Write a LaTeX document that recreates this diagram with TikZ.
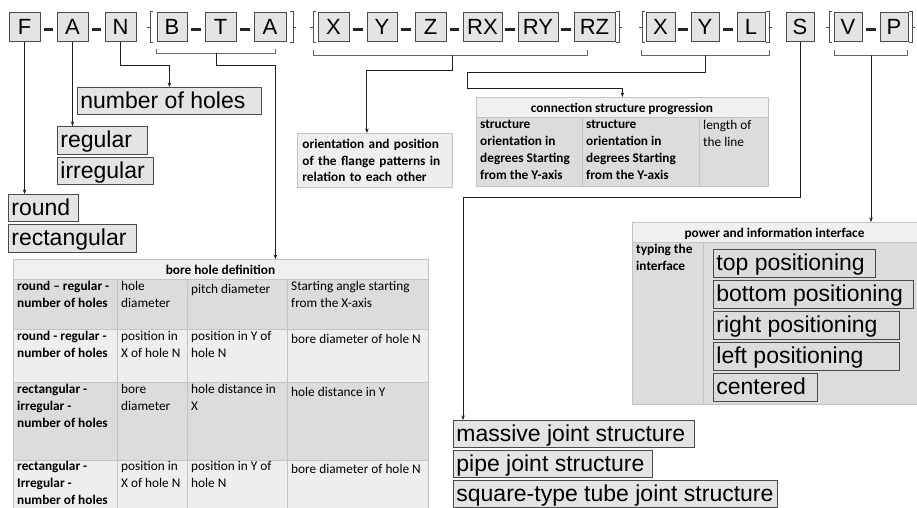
\documentclass[tikz,border=0pt]{standalone}
\usepackage{fontspec}
\setmainfont{Liberation Sans}
\newfontfamily\tabfont{Carlito}
\usetikzlibrary{arrows.meta,calc}

\definecolor{boxfill}{HTML}{E4E4E4}
\definecolor{boxline}{HTML}{4A4A4A}
\definecolor{headfill}{HTML}{F0F0F0}
\definecolor{darkrow}{HTML}{DCDCDD}
\definecolor{lightrow}{HTML}{EEEEEE}
\definecolor{gridline}{HTML}{C4C4C4}
\definecolor{wire}{HTML}{1E1E1E}

% left-aligned label text in a box of fixed width
\newcommand\lbox[2]{\hbox to #1{#2\hfil}}

\tikzset{
  key/.style={draw=boxline,fill=boxfill,line width=0.8pt,minimum height=29pt,
    inner sep=0pt,text height=15.5pt,text depth=0pt,font=\fontsize{22}{25}\selectfont},
  sepdash/.style={line width=3pt,draw=black!85},
  bracket/.style={draw=black!70,line width=0.7pt},
  brace/.style={draw=black!60,line width=0.8pt},
  conn/.style={draw=wire,line width=0.9pt,-{Stealth[length=4.5pt,width=3.5pt]}},
  tag/.style={draw=boxline,fill=boxfill,line width=0.8pt,anchor=north west,
    inner xsep=3pt,inner ysep=0pt,minimum height=27pt,text height=19pt,text depth=4pt,
    font=\fontsize{23}{26}\selectfont},
  frame/.style={draw=gridline,line width=0.8pt,anchor=north west,inner sep=0pt},
  grid/.style={draw=gridline,line width=0.8pt},
  % table text: the given point is the baseline of the first line
  cell/.style={anchor=north west,yshift=11.69pt,inner sep=0pt,align=left,
    font=\tabfont\fontsize{13.3}{16.7}\selectfont,execute at begin node=\strut},
  bcell/.style={cell,font=\tabfont\bfseries\fontsize{13.3}{16.7}\selectfont},
  head/.style={anchor=base,inner sep=0pt,font=\tabfont\bfseries\fontsize{13.3}{16.7}\selectfont},
  openbr/.pic={\draw[bracket] (3,-15.5) -- (0,-15.5) -- (0,15.5) -- (3,15.5) (0,0) -- (-3,0);},
  closebr/.pic={\draw[bracket] (-3,-15.5) -- (0,-15.5) -- (0,15.5) -- (-3,15.5) (0,0) -- (3,0);}
}

\begin{document}
\begin{tikzpicture}[x=1pt,y=-1pt]
\useasboundingbox (0,0) rectangle (917,507);
\fill[white] (0,0) rectangle (917,507);
\clip (0,0) rectangle (917,507);

% ---------- code letters ----------
\node[key,minimum width=31pt] (F)  at (24.5,27)  {F};
\node[key,minimum width=31pt] (A1) at (72.5,27)  {A};
\node[key,minimum width=31pt] (N)  at (120.5,27) {N};
\node[key,minimum width=30pt] (B)  at (172,27)   {B};
\node[key,minimum width=31pt] (T)  at (220.5,27) {T};
\node[key,minimum width=32pt] (A2) at (270,27)   {A};
\node[key,minimum width=31pt] (X1) at (333.5,27) {X};
\node[key,minimum width=30pt] (Y1) at (382,27)   {Y};
\node[key,minimum width=31pt] (Z)  at (430.5,27) {Z};
\node[key,minimum width=39pt] (RX) at (482.5,27) {RX};
\node[key,minimum width=40pt] (RY) at (538,27)   {RY};
\node[key,minimum width=41pt] (RZ) at (594.5,27) {RZ};
\node[key,minimum width=29pt] (X2) at (660.5,27) {X};
\node[key,minimum width=28pt] (Y2) at (705,27)   {Y};
\node[key,minimum width=28pt] (L)  at (751,27)   {L};
\node[key,minimum width=28pt] (S)  at (800,27)   {S};
\node[key,minimum width=28pt] (V)  at (848,27)   {V};
\node[key,minimum width=28pt] (P)  at (894,27)   {P};

% separating dashes
\foreach \a/\b in {F/A1,A1/N,B/T,T/A2,X1/Y1,Y1/Z,Z/RX,RX/RY,RY/RZ,X2/Y2,Y2/L,V/P}
  \draw[sepdash] ($(\a.east)!0.2!(\b.west)+(0,2)$) -- ($(\a.east)!0.8!(\b.west)+(0,2)$);

% group brackets
\pic at (150,27) {openbr};  \pic at (293,27) {closebr};
\pic at (313,27) {openbr};  \pic at (619,27) {closebr};
\pic at (642,27) {openbr};  \pic at (769,27) {closebr};
\pic at (829,27) {openbr};  \pic at (912,27) {closebr};

% under-braces
\draw[brace] (156,49) -- (156,53) -- (275,53) -- (275,49);
\coordinate (btaMid) at (216,53);
\draw[brace] (313,50) -- (313,55) -- (587,55) -- (587,50);
\coordinate (xyzMid) at (452,55);
\draw[brace] (641,50) -- (641,55) -- (769,55) -- (769,50);
\coordinate (xylMid) at (705,55);
\draw[brace] (834,50) -- (834,55) -- (907,55) -- (907,50);
\coordinate (vpMid) at (871,55);

% ---------- option labels ----------
\node[tag] (noh)   at (77,87)  {\lbox{178pt}{number of holes}};
\node[tag,minimum height=28pt] (reg) at (57,126) {\lbox{84pt}{regular}};
\node[tag] (irreg) at (57,157) {\lbox{90pt}{irregular}};
\node[tag] (rnd)   at (8,194)  {\lbox{64pt}{round}};
\node[tag,minimum height=28pt] (rect) at (8,224) {\lbox{122pt}{rectangular}};

\node[tag] (massive) at (453,420) {\lbox{235pt}{massive joint structure}};
\node[tag] (pipe)    at (453,450) {\lbox{193pt}{pipe joint structure}};
\node[tag] (square)  at (453,480) {\lbox{318pt}{square-type tube joint structure}};

% ---------- bore hole table ----------
\fill[headfill] (13,259) rectangle (428,279);
\fill[darkrow]  (13,279) rectangle (428,329);
\fill[lightrow] (13,329) rectangle (428,382);
\fill[darkrow]  (13,382) rectangle (428,460);
\fill[lightrow] (13,460) rectangle (428,520);
\draw[grid] (13,279) -- (428,279) (13,329) -- (428,329) (13,382) -- (428,382) (13,460) -- (428,460)
  (117,279) -- (117,520) (187,279) -- (187,520) (287,279) -- (287,520);
\node[frame,minimum width=415pt,minimum height=261pt] (bore) at (13,259) {};
\node[head] (boreT) at (220.5,274) {bore hole definition};
\node[bcell] (b11) at (17,293)  {round – regular -\\number of holes};
\node[cell]  (b12) at (121,293) {hole\\diameter};
\node[cell]  (b13) at (191,293) {pitch diameter};
\node[cell]  (b14) at (291,293) {Starting angle starting\\from the X-axis};
\node[bcell] (b21) at (17,343)  {round - regular -\\number of holes};
\node[cell]  (b22) at (121,343) {position in\\X of hole N};
\node[cell]  (b23) at (191,343) {position in Y of\\hole N};
\node[cell]  (b24) at (291,343) {bore diameter of hole N};
\node[bcell] (b31) at (17,396)  {rectangular -\\irregular -\\number of holes};
\node[cell]  (b32) at (121,396) {bore\\diameter};
\node[cell]  (b33) at (191,396) {hole distance in\\X};
\node[cell]  (b34) at (291,396) {hole distance in Y};
\node[bcell] (b41) at (17,473)  {rectangular -\\Irregular -\\number of holes};
\node[cell]  (b42) at (121,473) {position in\\X of hole N};
\node[cell]  (b43) at (191,473) {position in Y of\\hole N};
\node[cell]  (b44) at (291,473) {bore diameter of hole N};

% ---------- orientation box ----------
\node[frame,fill=lightrow,minimum width=155pt,minimum height=54pt,inner xsep=5pt,
  text width=145pt,align=left,font=\tabfont\bfseries\fontsize{13.3}{16.7}\selectfont]
  (orient) at (297,133) {orientation and position\\of the flange patterns in\\relation to each other};

% ---------- connection table ----------
\fill[headfill] (476,97) rectangle (768,117);
\fill[darkrow]  (476,117) rectangle (768,186);
\draw[grid] (476,117) -- (768,117) (582,117) -- (582,186) (699,117) -- (699,186);
\node[frame,minimum width=292pt,minimum height=89pt] (ctab) at (476,97) {};
\node[head] (ctabT) at (622,112) {connection structure progression};
\node[bcell] (c1) at (480,132) {structure\\orientation in\\degrees Starting\\from the Y-axis};
\node[bcell] (c2) at (586,132) {structure\\orientation in\\degrees Starting\\from the Y-axis};
\node[cell]  (c3) at (703,132) {length of\\the line};

% ---------- interface table ----------
\fill[headfill] (632,222) rectangle (930,242);
\fill[darkrow]  (632,242) rectangle (930,404);
\draw[grid] (632,242) -- (930,242) (703,242) -- (703,404);
\node[frame,minimum width=298pt,minimum height=182pt] (pwr) at (632,222) {};
\node[head] (pwrT) at (774.5,237) {power and information interface};
\node[bcell] (p1) at (636,256) {typing the\\interface};
\node[tag,fill=darkrow,minimum height=28pt] (ptop)   at (713,249) {\lbox{156pt}{top positioning}};
\node[tag,fill=darkrow,minimum height=28pt] (pbot)   at (713,280) {\lbox{194pt}{bottom positioning}};
\node[tag,fill=darkrow,minimum height=28pt] (pright) at (713,311) {\lbox{180pt}{right positioning}};
\node[tag,fill=darkrow,minimum height=28pt] (pleft)  at (713,342) {\lbox{180pt}{left positioning}};
\node[tag,fill=darkrow,minimum height=28pt] (pcent)  at (713,373) {\lbox{98pt}{centered}};

% ---------- connectors ----------
\draw[conn] (F.south) -- (F.south |- rnd.north);
\draw[conn] (A1.south) -- (A1.south |- reg.north);
\draw[conn] (N.south) -- ++(0,24) -| (noh.north);
\draw[conn] (btaMid) -- ++(0,12) -| ([xshift=54.5pt]bore.north);
\draw[conn] (xyzMid) -- ++(0,15) -| ([xshift=-8pt]orient.north);
\draw[conn] (xylMid) -- ++(0,17) -- ++(-238,0) -- ++(0,16) -| (ctab.north);
\draw[conn] (S.south) -- ++(0,156) -| ([xshift=10pt]massive.north west);
\draw[conn] (vpMid) -- (vpMid |- pwr.north);
\end{tikzpicture}
\end{document}
